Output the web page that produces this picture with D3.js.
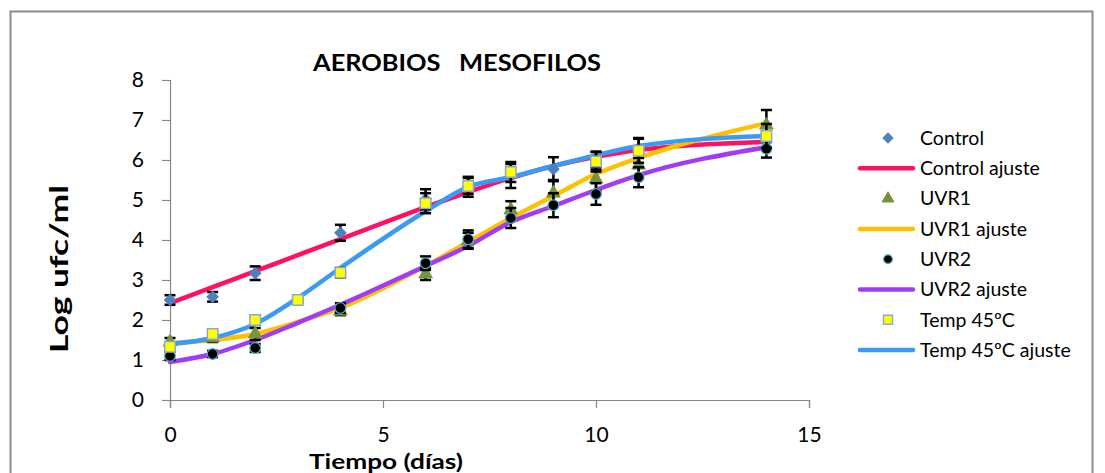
<!DOCTYPE html>
<html>
<head>
<meta charset="utf-8">
<script src="https://cdn.jsdelivr.net/npm/d3@7"></script>
<style>
  body { margin: 0; background: #fff; }
  svg { display: block; }
  text { font-family: Lato, "Open Sans", sans-serif; fill: #000; }
</style>
</head>
<body>
<svg id="chart" width="1105" height="473"></svg>
<script>
// Sampling days of each series
const days = [0, 1, 2, 4, 6, 7, 8, 9, 10, 11, 14];
const tempDays = [0, 1, 2, 3, 4, 6, 7, 8, 10, 11, 14];
const fitDays = [0, 1, 2, 3, 4, 6, 7, 8, 9, 10, 11, 14];

// Observed log ufc/ml and error bar half-widths
const controlVals = [2.5, 2.58, 3.17, 4.18, 5.02, 5.33, 5.6, 5.77, 5.98, 6.3, 6.45];
const controlErr  = [0.12, 0.12, 0.17, 0.2, 0.25, 0.25, 0.3, 0.3, 0.22, 0.25, 0.2];
const uvr1Vals = [1.45, 1.55, 1.65, 2.22, 3.15, 3.98, 4.75, 5.17, 5.52, 5.87, 6.87];
const uvr1Err  = [0.1, 0.1, 0.15, 0.1, 0.15, 0.2, 0.22, 0.33, 0.3, 0.3, 0.38];
const uvr2Vals = [1.1, 1.15, 1.3, 2.3, 3.42, 4.02, 4.55, 4.87, 5.15, 5.57, 6.28];
const uvr2Err  = [0.1, 0.08, 0.1, 0.12, 0.17, 0.22, 0.25, 0.3, 0.27, 0.25, 0.22];
const tempVals = [1.33, 1.65, 2.0, 2.5, 3.18, 4.92, 5.35, 5.7, 5.96, 6.23, 6.6];
const tempErr  = [0.1, 0.1, 0.1, 0.05, 0.12, 0.25, 0.2, 0.25, 0.25, 0.3, 0.3];

// Fitted curves (ajuste)
const controlFit = [2.42, 2.82, 3.22, 3.62, 4.02, 4.82, 5.2, 5.55, 5.85, 6.08, 6.25, 6.45];
const uvr1Fit    = [1.42, 1.5, 1.65, 1.95, 2.3, 3.35, 3.95, 4.55, 5.1, 5.65, 6.05, 6.92];
const uvr2Fit    = [0.95, 1.15, 1.5, 1.93, 2.38, 3.35, 3.85, 4.45, 4.85, 5.25, 5.62, 6.32];
const tempFit    = [1.4, 1.55, 1.9, 2.55, 3.3, 4.72, 5.33, 5.57, 5.85, 6.12, 6.35, 6.6];

const xTicks = [0, 5, 10, 15];
const yTicks = [0, 1, 2, 3, 4, 5, 6, 7, 8];

const chartTitle = "AEROBIOS   MESOFILOS";
const xTitle = "Tiempo (días)";
const yTitle = "Log ufc/ml";

const legendLabels = ["Control", "Control ajuste", "UVR1", "UVR1 ajuste",
                      "UVR2", "UVR2 ajuste", "Temp 45ºC", "Temp 45ºC ajuste"];

const svg = d3.select("#chart");

// outer frame
svg.append("rect")
  .attr("x", 10.5).attr("y", 11.5).attr("width", 1082).attr("height", 480)
  .attr("fill", "none").attr("stroke", "#8c8c8c").attr("stroke-width", 2);

const x = d3.scaleLinear().domain([0, 15]).range([170, 809]);
const y = d3.scaleLinear().domain([0, 8]).range([400, 80]);

const axisColor = "#868686";

// x axis
const gx = svg.append("g").attr("transform", "translate(0,400)")
  .call(d3.axisBottom(x).tickValues(xTicks).tickSize(8).tickPadding(19).tickFormat(d3.format("d")));
gx.select(".domain").attr("stroke", axisColor).attr("stroke-width", 1.2);
gx.selectAll(".tick line").attr("stroke", axisColor).attr("stroke-width", 1.2);
gx.selectAll(".tick text").attr("font-size", 21).attr("font-family", "Lato").attr("fill", "#000");

// y axis
const gy = svg.append("g").attr("transform", "translate(170,0)")
  .call(d3.axisLeft(y).tickValues(yTicks).tickSize(8).tickPadding(18).tickFormat(d3.format("d")));
gy.select(".domain").attr("stroke", axisColor).attr("stroke-width", 1.2);
gy.selectAll(".tick line").attr("stroke", axisColor).attr("stroke-width", 1.2);
gy.selectAll(".tick text").attr("font-size", 21).attr("font-family", "Lato").attr("fill", "#000");

// titles
svg.append("text")
  .attr("x", 313).attr("y", 71)
  .attr("font-size", 23).attr("font-weight", "bold")
  .attr("textLength", 288).attr("lengthAdjust", "spacingAndGlyphs")
  .style("white-space", "pre")
  .text(chartTitle);

svg.append("text")
  .attr("x", 309).attr("y", 468.5)
  .attr("font-size", 21).attr("font-weight", "bold")
  .attr("textLength", 154).attr("lengthAdjust", "spacingAndGlyphs")
  .text(xTitle);

svg.append("text")
  .attr("transform", "translate(68,353) rotate(-90)")
  .attr("font-size", 25).attr("font-weight", "bold")
  .attr("textLength", 168).attr("lengthAdjust", "spacingAndGlyphs")
  .text(yTitle);

// series definitions
const fits = [
  { vals: controlFit, color: "#FF1064" },
  { vals: uvr1Fit,    color: "#FFC000" },
  { vals: uvr2Fit,    color: "#A03CF8" },
  { vals: tempFit,    color: "#3A9BF5" }
];

const diamond = d3.symbol().type(d3.symbolSquare).size(64);
const triangle = d3.symbol().type(d3.symbolTriangle).size(80);
const circle = d3.symbol().type(d3.symbolCircle).size(90);
const square = d3.symbol().type(d3.symbolSquare).size(110);

const obs = [
  { t: days, vals: controlVals, err: controlErr, sym: diamond, rot: 45, fill: "#4F81BD", stroke: "#4F81BD", sw: 1 },
  { t: days, vals: uvr1Vals, err: uvr1Err, sym: triangle, rot: 0, fill: "#77933C", stroke: "#77933C", sw: 1 },
  { t: days, vals: uvr2Vals, err: uvr2Err, sym: circle, rot: 0, fill: "#000000", stroke: "#4BACC6", sw: 1.2 },
  { t: tempDays, vals: tempVals, err: tempErr, sym: square, rot: 0, fill: "#FFFF00", stroke: "#8EA9C8", sw: 1.5 }
];

// fitted lines
const line = d3.line().x(d => x(d[0])).y(d => y(d[1])).curve(d3.curveMonotoneX);
const lineG = svg.append("g");
fits.forEach(f => {
  lineG.append("path")
    .attr("d", line(fitDays.map((t, i) => [t, f.vals[i]])))
    .attr("fill", "none").attr("stroke", f.color)
    .attr("stroke-width", 4.5).attr("stroke-linecap", "round").attr("stroke-linejoin", "round");
});

// error bars and markers
obs.forEach(s => {
  const pts = s.t.map((t, i) => ({ t, v: s.vals[i], e: s.err[i] }));
  const g = svg.append("g");
  const eb = g.selectAll("g.err").data(pts).join("g").attr("class", "err")
    .attr("stroke", "#000").attr("stroke-width", 2.5);
  eb.append("line")
    .attr("x1", d => x(d.t)).attr("x2", d => x(d.t))
    .attr("y1", d => y(d.v - d.e)).attr("y2", d => y(d.v + d.e));
  eb.append("line")
    .attr("x1", d => x(d.t) - 5.5).attr("x2", d => x(d.t) + 5.5)
    .attr("y1", d => y(d.v + d.e)).attr("y2", d => y(d.v + d.e));
  eb.append("line")
    .attr("x1", d => x(d.t) - 5.5).attr("x2", d => x(d.t) + 5.5)
    .attr("y1", d => y(d.v - d.e)).attr("y2", d => y(d.v - d.e));
  g.selectAll("path.mk").data(pts).join("path").attr("class", "mk")
    .attr("d", s.sym())
    .attr("transform", d => `translate(${x(d.t)},${y(d.v)}) rotate(${s.rot})`)
    .attr("fill", s.fill).attr("stroke", s.stroke).attr("stroke-width", s.sw);
});

// legend
const legend = svg.append("g");
const rowY = i => 138 + i * 30.3;
legendLabels.forEach((lab, i) => {
  const yy = rowY(i);
  if (i % 2 === 1) {
    legend.append("line")
      .attr("x1", 860).attr("x2", 913).attr("y1", yy).attr("y2", yy)
      .attr("stroke", fits[(i - 1) / 2].color).attr("stroke-width", 4.5)
      .attr("stroke-linecap", "round");
  } else {
    const s = obs[i / 2];
    const small = s.sym === diamond ? d3.symbol().type(d3.symbolSquare).size(50)
               : s.sym === triangle ? d3.symbol().type(d3.symbolTriangle).size(60)
               : s.sym === circle ? d3.symbol().type(d3.symbolCircle).size(60)
               : d3.symbol().type(d3.symbolSquare).size(80);
    legend.append("path")
      .attr("d", small())
      .attr("transform", `translate(888,${yy}) rotate(${s.rot})`)
      .attr("fill", s.fill).attr("stroke", s.stroke).attr("stroke-width", s.sw);
  }
  legend.append("text")
    .attr("x", 920).attr("y", yy).attr("dy", "0.35em")
    .attr("font-size", 19.5)
    .text(lab);
});
</script>
</body>
</html>
